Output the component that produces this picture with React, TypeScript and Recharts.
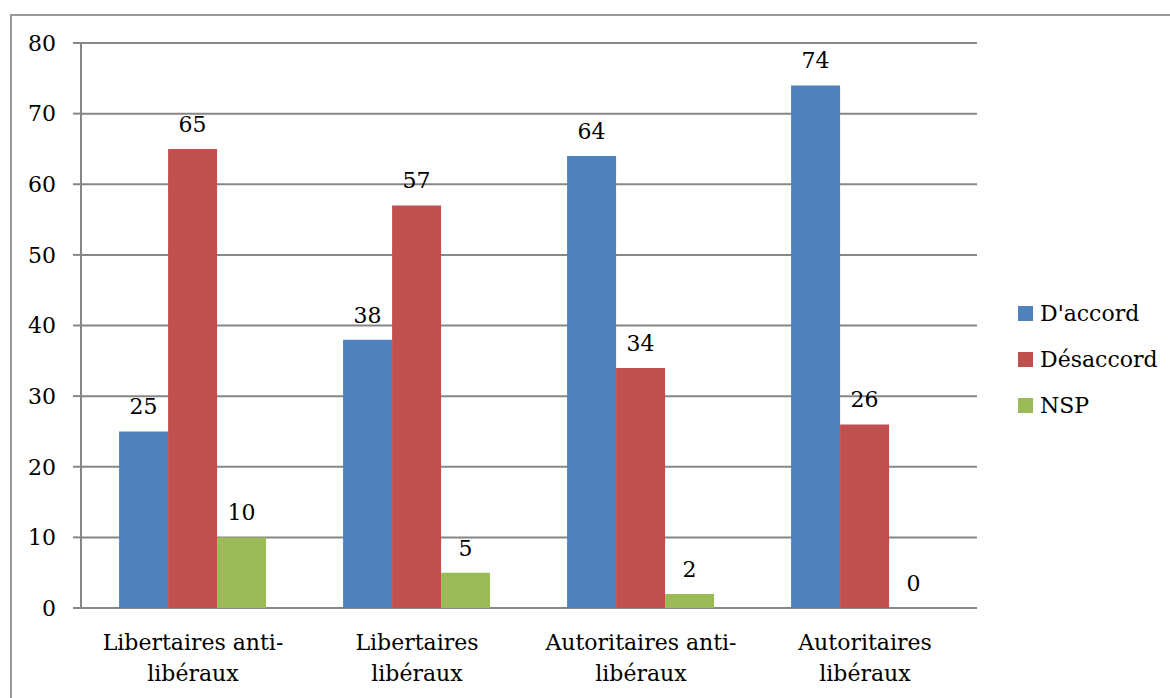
import { Bar, BarChart, CartesianGrid, LabelList, XAxis, YAxis } from "recharts";

const categories = [
  "Libertaires anti-\nlibéraux",
  "Libertaires\nlibéraux",
  "Autoritaires anti-\nlibéraux",
  "Autoritaires\nlibéraux",
];
const daccord = [25, 38, 64, 74];
const desaccord = [65, 57, 34, 26];
const nsp = [10, 5, 2, 0];
const yTicks = [0, 10, 20, 30, 40, 50, 60, 70, 80];
const edgeTicks = [0, 1, 2, 3, 4];

const SERIES = [
  { key: "daccord", name: "D'accord", color: "#4F81BD" },
  { key: "desaccord", name: "Désaccord", color: "#C0504D" },
  { key: "nsp", name: "NSP", color: "#9BBB59" },
];

const FONT = '"DejaVu Serif", serif';
const FONT_SIZE = 22;
const GRID = "#868686";

const data = categories.map((c, i) => ({
  category: c,
  daccord: daccord[i],
  desaccord: desaccord[i],
  nsp: nsp[i],
}));

function CategoryTick({ x, y, payload }: any) {
  const lines = String(payload.value).split("\n");
  return (
    <text x={x} y={y} textAnchor="middle" fill="#000" fontSize={FONT_SIZE} fontFamily={FONT}>
      {lines.map((l, i) => (
        <tspan key={i} x={x} dy={i === 0 ? 34 : 31}>
          {l}
        </tspan>
      ))}
    </text>
  );
}

export default function App() {
  return (
    <div
      style={{
        position: "absolute",
        left: 0,
        top: 0,
        width: 1170,
        height: 698,
        overflow: "hidden",
        background: "#fff",
      }}
    >
      <div
        style={{
          position: "absolute",
          left: 10,
          top: 14,
          width: 1200,
          height: 720,
          borderLeft: "2px solid #9a9a9a",
          borderTop: "2px solid #9a9a9a",
        }}
      />
      <div style={{ position: "absolute", left: 0, top: 0 }}>
        <BarChart
          width={1170}
          height={698}
          data={data}
          margin={{ top: 43, right: 193, bottom: 0, left: 0 }}
          barCategoryGap="17%"
          barGap={0}
        >
          <CartesianGrid vertical={false} stroke={GRID} strokeWidth={2} />
          <XAxis
            xAxisId="edges"
            type="number"
            domain={[0, 4]}
            ticks={edgeTicks}
            allowDataOverflow
            height={0}
            tick={false}
            tickSize={8}
            axisLine={{ stroke: GRID, strokeWidth: 2 }}
            tickLine={{ stroke: GRID, strokeWidth: 2 }}
          />
          <XAxis
            dataKey="category"
            height={90}
            axisLine={false}
            tickLine={false}
            tickSize={8}
            tickMargin={0}
            interval={0}
            tick={<CategoryTick />}
          />
          <YAxis
            domain={[0, 80]}
            ticks={yTicks}
            width={81}
            tickSize={8}
            tickMargin={17}
            axisLine={{ stroke: GRID, strokeWidth: 2 }}
            tickLine={{ stroke: GRID, strokeWidth: 2 }}
            tick={{ fill: "#000", fontSize: FONT_SIZE, fontFamily: FONT }}
          />
          {SERIES.map((s) => (
            <Bar
              key={s.key}
              dataKey={s.key}
              name={s.name}
              fill={s.color}
              minPointSize={0.01}
              isAnimationActive={false}
            >
              <LabelList
                dataKey={s.key}
                position="top"
                offset={17}
                fill="#000"
                fontSize={FONT_SIZE}
                fontFamily={FONT}
              />
            </Bar>
          ))}
        </BarChart>
      </div>
      <div style={{ position: "absolute", left: 1018, top: 290, fontFamily: FONT, fontSize: 22 }}>
        {SERIES.map((s) => (
          <div key={s.key} style={{ display: "flex", alignItems: "center", height: 46 }}>
            <span style={{ width: 15, height: 15, background: s.color, marginRight: 7 }} />
            <span style={{ color: "#000" }}>{s.name}</span>
          </div>
        ))}
      </div>
    </div>
  );
}
